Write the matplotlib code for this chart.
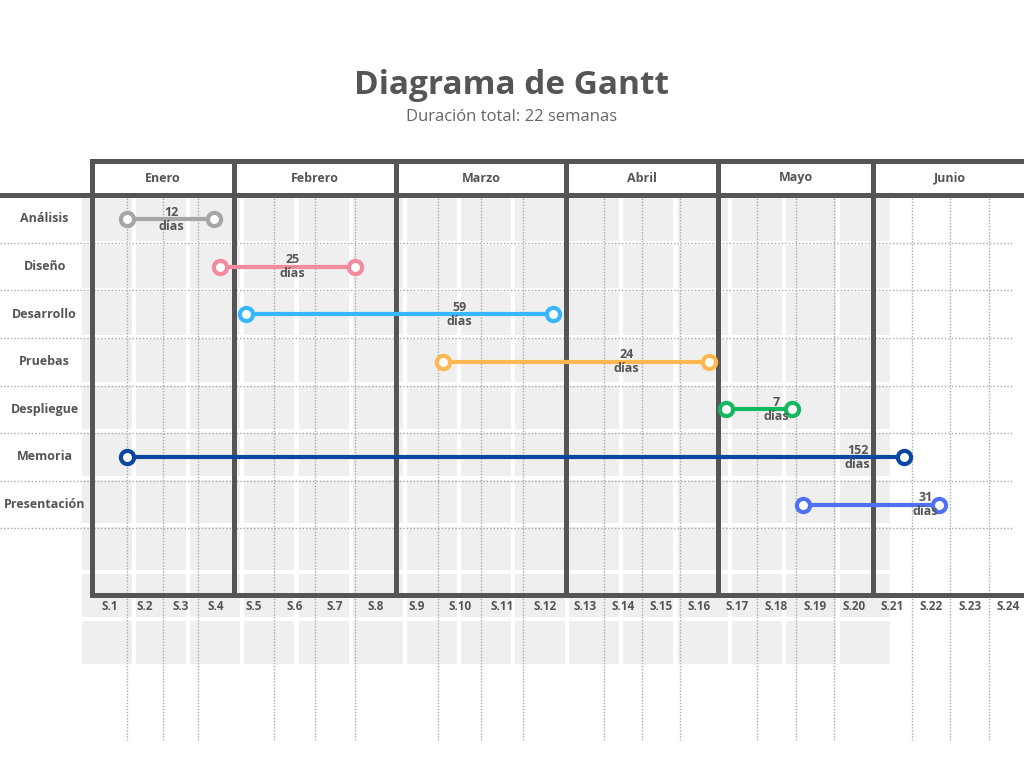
import numpy as np
import matplotlib.pyplot as plt
from matplotlib.patches import Rectangle

plt.rcParams['font.family'] = ['Open Sans', 'DejaVu Sans']

# data (week units, S.1 = week 0..1)
tasks = ['Análisis', 'Diseño', 'Desarrollo', 'Pruebas', 'Despliegue', 'Memoria', 'Presentación']
start_week = [1.0, 3.6, 4.3, 9.1, 16.2, 1.0, 18.2]
end_week = [3.45, 7.0, 11.7, 15.75, 17.9, 20.8, 21.7]
duration_days = [12, 25, 59, 24, 7, 152, 31]
label_week = [2.25, 5.45, 9.5, 13.6, 17.5, 19.6, 21.35]
months = ['Enero', 'Febrero', 'Marzo', 'Abril', 'Mayo', 'Junio']
weeks = ['S.%d' % i for i in range(1, 25)]
total_weeks = 22

colors = ['#a6a6a6', '#f48b9c', '#38b6ff', '#ffb84f', '#14b85f', '#0a47a1', '#5070f7']
dark = '#555555'
dots = '#a8a8a8'

# the month columns are not all the same width
knot_w = [-2.6, 0, 4, 8, 12, 16, 20, 24.5]
knot_px = [0, 92, 234, 396, 566, 718, 873, 1047]

def fwd(w):
    return np.interp(w, knot_w, knot_px)

def inv(p):
    return np.interp(p, knot_px, knot_w)

def row(px):
    return (px - 219) / 47.6

fig = plt.figure(figsize=(10.24, 7.68), dpi=100)

# background grey cells
bg = fig.add_axes([0, 0, 1, 1], zorder=0)
bg.set_xlim(0, 1024)
bg.set_ylim(768, 0)
bg.axis('off')
for i in range(10):
    for j in range(15):
        bg.add_patch(Rectangle((82 + 54.14 * j, 198 + 47 * i), 50, 43,
                               facecolor='#efefef', edgecolor='none'))

ax = fig.add_axes([0, 0, 1, 1], zorder=1)
ax.patch.set_visible(False)
ax.set_xscale('function', functions=(fwd, inv))
ax.set_xlim(-2.59, 23.9)
ax.set_ylim(row(768), row(0))
ax.axis('off')

right = 23.9
# dotted week lines
for k in range(1, 24):
    if k % 4:
        ax.plot([k, k], [row(195), row(740)], color=dots, lw=1,
                ls=(0, (1, 1.2)), zorder=1)
# dotted row separators
for i in range(len(tasks)):
    ax.plot([-2.59, 23.6], [i + 0.5, i + 0.5], color=dots, lw=1,
            ls=(0, (1, 1.5)), zorder=1)

# frame
ax.plot([0, right], [row(161), row(161)], color=dark, lw=3.6, zorder=2)
ax.plot([-2.59, right], [row(195), row(195)], color=dark, lw=3.6, zorder=2)
ax.plot([0, right], [row(595), row(595)], color=dark, lw=3.6, zorder=2)
for m in range(len(months)):
    ax.plot([4 * m, 4 * m], [row(161), row(595)], color=dark, lw=3.6,
            zorder=2, solid_capstyle='projecting')
    ax.text(4 * m + 2, row(178), months[m], ha='center', va='center',
            fontsize=9, fontweight='bold', color=dark)

for k, w in enumerate(weeks):
    ax.text(k + 0.5, row(607), w, ha='center', va='center',
            fontsize=8.5, fontweight='bold', color=dark)

for i, t in enumerate(tasks):
    ax.text(inv(45), i, t, ha='center', va='center',
            fontsize=9, fontweight='bold', color=dark)
    ax.plot([start_week[i], end_week[i]], [i, i], color=colors[i], lw=3,
            marker='o', ms=9.5, mfc='white', mec=colors[i], mew=3,
            solid_capstyle='butt', zorder=4)
    ax.text(label_week[i], i, '%d\ndías' % duration_days[i], ha='center',
            va='center', fontsize=9, fontweight='bold', color=dark,
            linespacing=1.1, zorder=5)

fig.text(0.5, 1 - 85 / 768, 'Diagrama de Gantt', ha='center', va='center',
         fontsize=24, fontweight='bold', color=dark)
fig.text(0.5, 1 - 117 / 768, 'Duración total: %d semanas' % total_weeks,
         ha='center', va='center', fontsize=12, color='#666666')

fig.savefig('out.png', dpi=100)
